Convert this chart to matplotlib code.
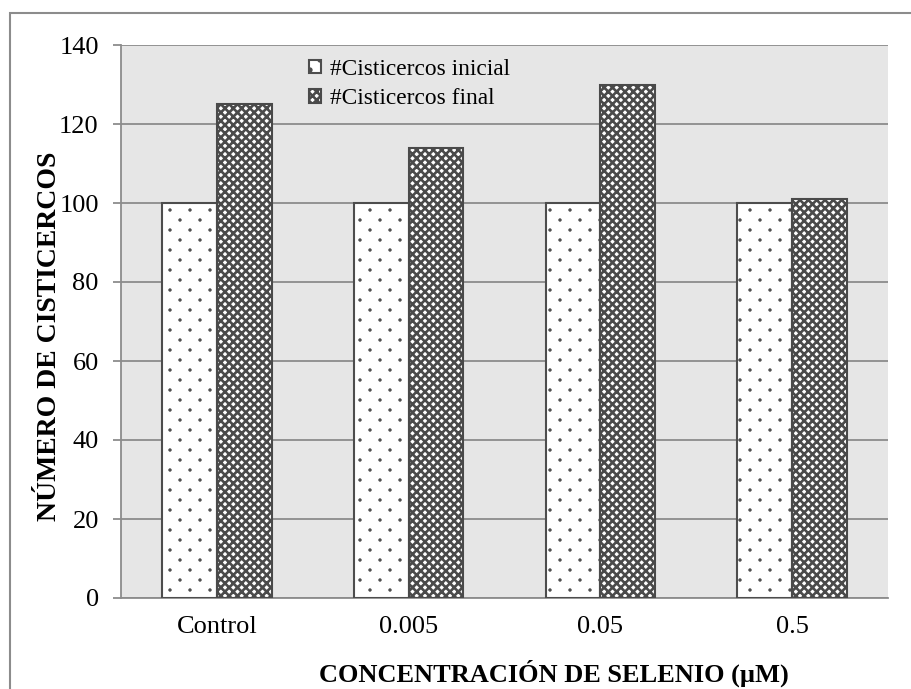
import matplotlib
matplotlib.use("Agg")
import matplotlib.pyplot as plt
import matplotlib.hatch as mhatch
from matplotlib.path import Path
import numpy as np
from matplotlib.patches import Rectangle

categories = ["Control", "0.005", "0.05", "0.5"]
inicial = [100, 100, 100, 100]
final = [125, 114, 130, 101]
series_labels = ["#Cisticercos inicial", "#Cisticercos final"]
yticks = [0, 20, 40, 60, 80, 100, 120, 140]


class SparseDots(mhatch.HatchPatternBase):
    """Small filled dots on a staggered grid, wider than they are tall."""
    cols = 5
    radius = 0.013

    def __init__(self, hatch, density):
        circle = Path.unit_circle()
        self.shape_vertices = circle.vertices
        self.shape_codes = circle.codes
        self.centers = []
        if '.' in hatch:
            n = self.cols
            for row in range(2 * n + 1):
                y = row / (2 * n)
                if row % 2 == 0:
                    xs = np.linspace(0, 1, n + 1)
                else:
                    xs = np.linspace(0.5 / n, 1 - 0.5 / n, n)
                self.centers += [(xx, y) for xx in xs]
        self.num_vertices = len(self.centers) * len(self.shape_vertices)

    def set_vertices_and_codes(self, vertices, codes):
        k = len(self.shape_vertices)
        for i, (cx, cy) in enumerate(self.centers):
            vertices[i * k:(i + 1) * k] = self.shape_vertices * self.radius + (cx, cy)
            codes[i * k:(i + 1) * k] = self.shape_codes


mhatch._hatch_types = [SparseDots if t is mhatch.SmallFilledCircles else t
                       for t in mhatch._hatch_types]

plt.rcParams['font.family'] = ['Liberation Serif', 'DejaVu Serif']

W, H = 912, 689
fig = plt.figure(figsize=(W / 100, H / 100), dpi=100)
fig.patch.set_facecolor("white")

# chart border (top/left visible, right/bottom run past the canvas)
fig.patches.append(Rectangle((10 / W, -0.01), 1.0, 1 - 13 / H + 0.01,
                             transform=fig.transFigure, fill=False,
                             edgecolor="#8c8c8c", linewidth=1.5))

ax = fig.add_axes([121 / W, 1 - 598 / H, (888 - 121) / W, (598 - 45) / H])
ax.set_facecolor("#e6e6e6")

x = np.arange(len(categories))
bw = 0.285
plt.rcParams['hatch.linewidth'] = 0.5
b1 = ax.bar(x - bw / 2, inicial, bw, color="white", edgecolor="#4d4d4d",
            linewidth=1.5, hatch=".", label=series_labels[0], zorder=3)
plt.rcParams['hatch.linewidth'] = 1.9
b2 = ax.bar(x + bw / 2, final, bw, color="white", edgecolor="#4a4a4a",
            linewidth=1.5, hatch="xxxx", label=series_labels[1], zorder=3)

ax.set_xlim(-0.5, len(categories) - 0.5)
ax.set_ylim(0, 140)
ax.set_yticks(yticks)
ax.yaxis.grid(True, color="#8c8c8c", linewidth=1.3, zorder=0)
ax.set_axisbelow(True)

for s in ["top", "right"]:
    ax.spines[s].set_visible(False)
for s in ["left", "bottom"]:
    ax.spines[s].set_color("#8c8c8c")
    ax.spines[s].set_linewidth(1.3)

ax.set_xticks(x)
ax.set_xticklabels(categories)
ax.tick_params(axis="x", length=0, pad=13, labelsize=19)
ax.tick_params(axis="y", length=6, width=1.3, color="#8c8c8c", pad=10, labelsize=19)

ax.set_ylabel("NÚMERO DE CISTICERCOS", fontsize=20, fontweight="bold")
ax.set_xlabel("CONCENTRACIÓN DE SELENIO (µM)", fontsize=19, fontweight="bold")
ax.xaxis.set_label_coords(0.565, -0.112)
ax.yaxis.set_label_coords(-0.077, 0.474)

leg = ax.legend(loc="upper left", bbox_to_anchor=(0.245, 0.975), frameon=False,
                prop={'family': 'Liberation Serif', 'size': 16.8},
                handlelength=0.5, handleheight=0.5,
                handletextpad=0.4, labelspacing=0.36, borderaxespad=0.0,
                borderpad=0.0)

fig.savefig("out.png", dpi=100, facecolor="white")
